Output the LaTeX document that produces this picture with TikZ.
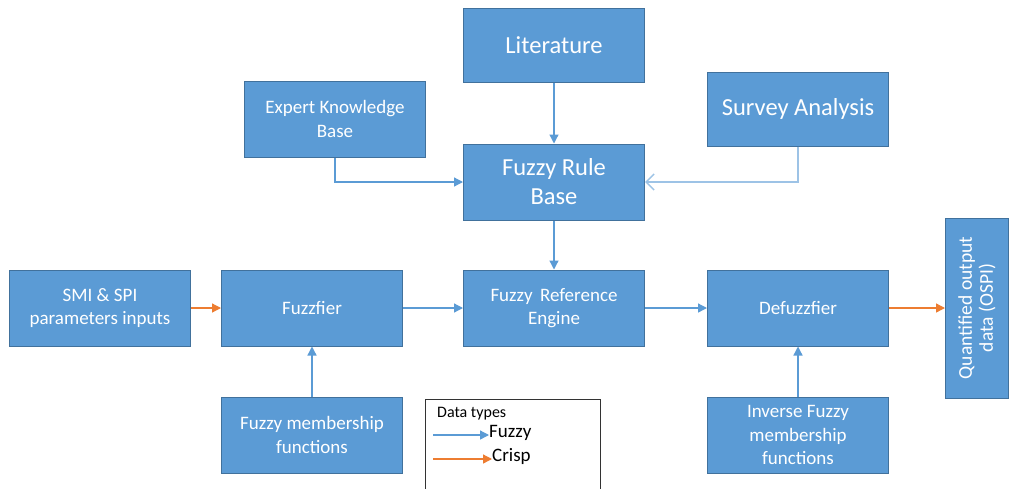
\documentclass[tikz,border=0pt]{standalone}
\usepackage{fontspec}
\setmainfont{Carlito}
\usepackage{tikz}
\usetikzlibrary{arrows.meta}
\usetikzlibrary{calc}

\definecolor{boxblue}{HTML}{5B9BD5}
\definecolor{boxedge}{HTML}{41719C}
\definecolor{fuzzyline}{HTML}{5B9BD5}
\definecolor{crispline}{HTML}{ED7D31}
\definecolor{paleline}{HTML}{9DC3E6}

\tikzset{
	block/.style={draw=boxedge, line width=1pt, fill=boxblue, text=white, align=center,
		minimum width=181pt, minimum height=76pt, inner sep=2pt, font=\fontsize{19}{23.5}\selectfont},
	bigblock/.style={block, font=\fontsize{24.5}{29}\selectfont},
	fuzzy/.style={draw=fuzzyline, line width=1.3pt, -{Triangle[length=9pt,width=9pt]}},
	crisp/.style={draw=crispline, line width=1.3pt, -{Triangle[length=9pt,width=9pt]}},
	pale/.style={draw=paleline, line width=2pt, -{Straight Barb[length=8pt,width=16pt,line width=1.5pt]}}
}

\begin{document}
\begin{tikzpicture}[x=1pt, y=-1pt]
\clip (0,0) rectangle (1010,488);
\fill[white] (0,0) rectangle (1010,488);

\node[bigblock, minimum height=74pt] (lit) at (554,45) {Literature};
\node[block] (expert) at (335,119) {Expert Knowledge\\Base};
\node[bigblock, minimum height=74pt] (survey) at (798,109) {Survey Analysis};
\node[bigblock] (rule) at (554,182) {Fuzzy Rule\\Base};

\node[block] (smi) at (100,308) {SMI \& SPI\\parameters inputs};
\node[block] (fuzz) at (312,308) {Fuzzfier};
\node[block] (engine) at (554,308) {Fuzzy\, Reference\\Engine};
\node[block] (defuzz) at (798,308) {Defuzzfier};
\node[block, minimum width=63pt, minimum height=180pt] (out) at (977,308) {};
\node[text=white, align=center, rotate=90, inner sep=0pt,
	font=\fontsize{19.5}{21}\selectfont] (outtext) at (out.center) {Quantified output\\data (OSPI)};

\node[block] (fmf) at (312,435) {Fuzzy membership\\functions};
\node[block] (inv) at (798,435) {Inverse Fuzzy\\membership\\functions};

% legend
\node[draw=black!80, line width=1pt, minimum width=175pt, minimum height=95pt, anchor=north west] (legend) at (425,399) {};
\node[anchor=west, font=\fontsize{16}{18}\selectfont, inner sep=0pt] (legtitle) at (437,414) {Data types};
\coordinate (fa) at (433,435);
\coordinate (ca) at (433,459);
\node[anchor=west, font=\fontsize{19}{22}\selectfont, inner sep=0pt] (legfuzzy) at (489,433) {Fuzzy};
\node[anchor=west, font=\fontsize{19}{22}\selectfont, inner sep=0pt] (legcrisp) at (492,456) {Crisp};
\path[fuzzy] (fa) -- (fa -| legfuzzy.west);
\path[crisp] (ca) -- (ca -| legcrisp.west);

\path[fuzzy] (lit) -- (rule);
\path[fuzzy] (expert.south) |- (rule.west);
\path[pale] (survey.south) |- (rule.east);
\path[fuzzy] (rule) -- (engine);
\path[crisp] (smi) -- (fuzz);
\path[fuzzy] (fuzz) -- (engine);
\path[fuzzy] (engine) -- (defuzz);
\path[crisp] (defuzz.east) -- (defuzz.east -| out.west);
\path[fuzzy] (fmf) -- (fuzz);
\path[fuzzy] (inv) -- (defuzz);
\end{tikzpicture}
\end{document}
